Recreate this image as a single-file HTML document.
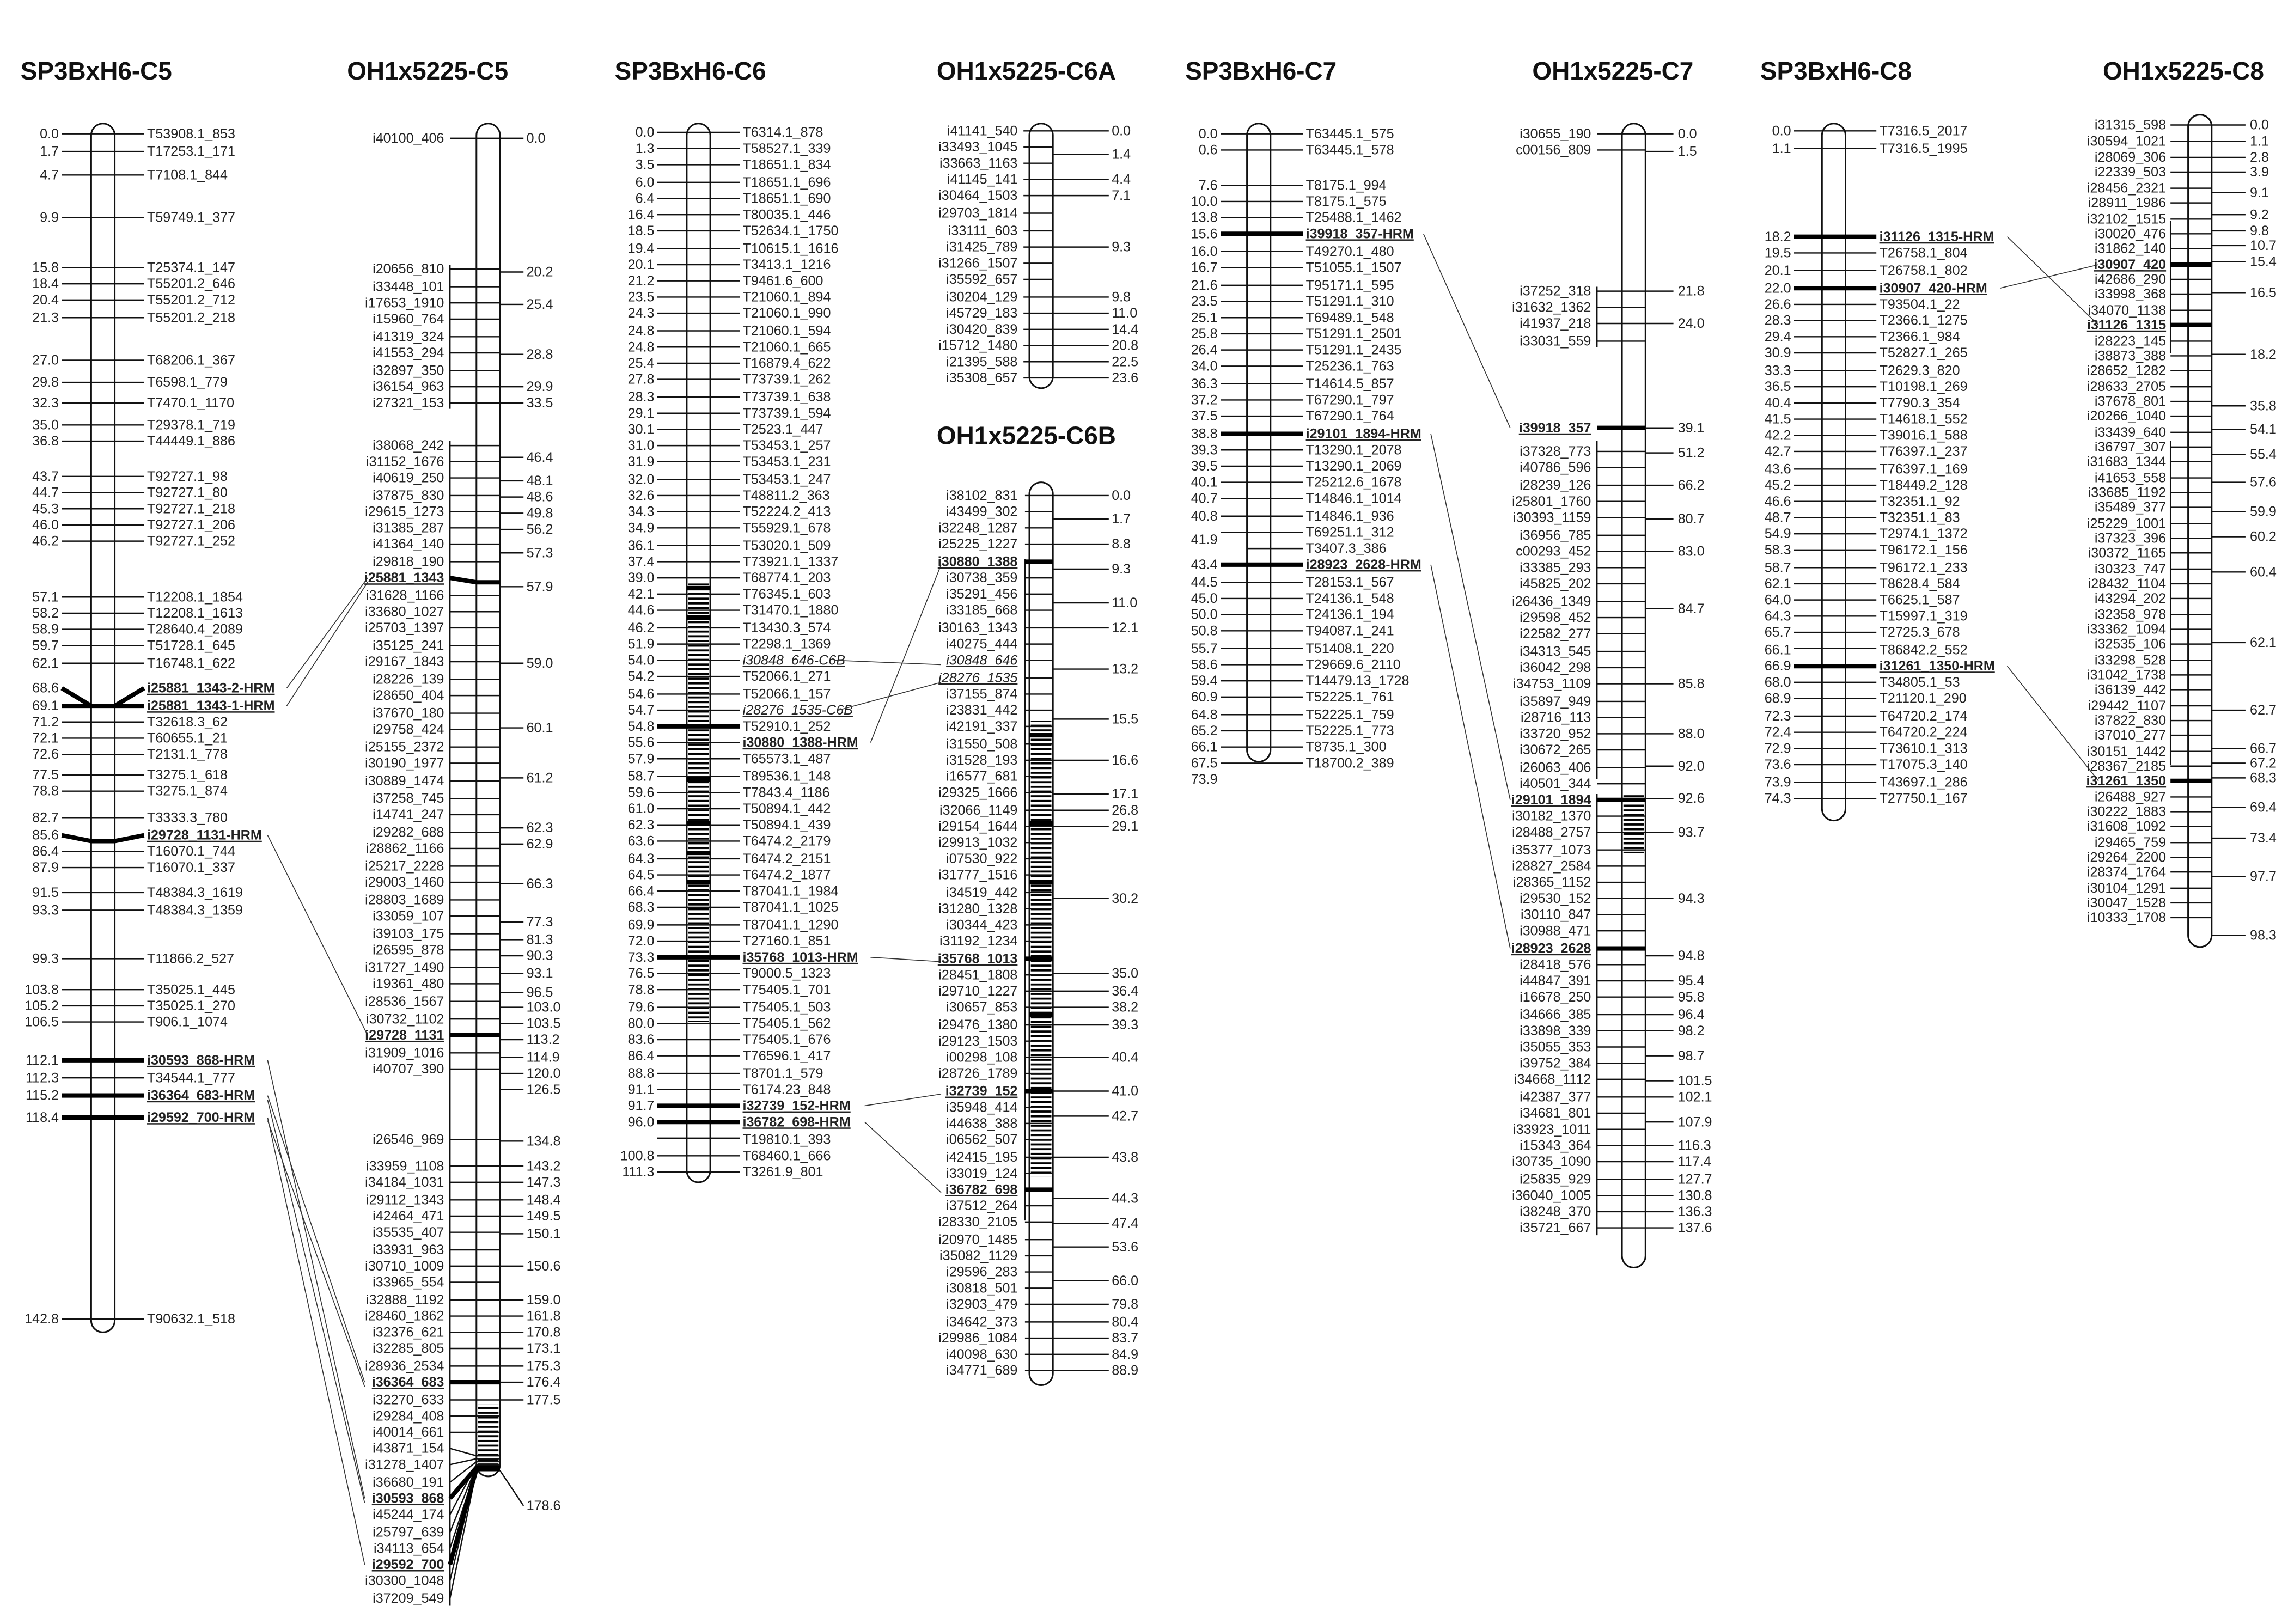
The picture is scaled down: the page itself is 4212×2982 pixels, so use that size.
<!DOCTYPE html>
<html><head><meta charset="utf-8">
<style>
html,body{margin:0;padding:0;background:#fff;}
svg{display:block;}
text{font-family:"Liberation Sans",sans-serif;font-size:9.3px;fill:#222;}
.e{text-anchor:end;}
.t{font-size:17px;font-weight:bold;fill:#111;}
.b{font-weight:bold;text-decoration:underline;}
.i{font-style:italic;text-decoration:underline;}
.k{stroke:#111;stroke-width:0.9;fill:none;}
.h{stroke:#000;stroke-width:3;fill:none;}
.c{stroke:#333;stroke-width:0.6;fill:none;}
.bar{fill:#fff;stroke:#111;stroke-width:1.1;}
</style></head><body>
<svg width="4212" height="2982" viewBox="0 0 1560 1104.4" preserveAspectRatio="none" xmlns="http://www.w3.org/2000/svg">
<defs>
<pattern id="hl" x="0" y="0" width="20" height="3.2" patternUnits="userSpaceOnUse"><rect x="0" y="0" width="20" height="1.4" fill="#000"/></pattern>
</defs>
<rect x="0" y="0" width="1560" height="1104.4" fill="#fff"/>

<!-- Titles -->
<text class="t" x="14" y="54">SP3BxH6-C5</text>
<text class="t" x="236" y="54">OH1x5225-C5</text>
<text class="t" x="418" y="54">SP3BxH6-C6</text>
<text class="t" x="637" y="54">OH1x5225-C6A</text>
<text class="t" x="637" y="302">OH1x5225-C6B</text>
<text class="t" x="806" y="54">SP3BxH6-C7</text>
<text class="t" x="1042" y="54">OH1x5225-C7</text>
<text class="t" x="1197" y="54">SP3BxH6-C8</text>
<text class="t" x="1430" y="54">OH1x5225-C8</text>

<!-- ============ SP3BxH6-C5 ============ -->
<rect class="bar" x="62" y="84" width="16" height="822" rx="8"/>
<path class="k" d="M42 91H98M42 103H98M42 119H98M42 148H98M42 182H98M42 193H98M42 204H98M42 216H98M42 245H98M42 260H98M42 274H98M42 289H98M42 300H98M42 324H98M42 335H98M42 346H98M42 357H98M42 368H98M42 406H98M42 417H98M42 428H98M42 439H98M42 451H98M42 491H98M42 502H98M42 513H98M42 527H98M42 538H98M42 556H98M42 579H98M42 590H98M42 607H98M42 619H98M42 652H98M42 673H98M42 684H98M42 695H98M42 733H98M42 897H98"/>
<path class="h" d="M42 468L62 480H78L98 468M42 480H98M42 568L62 572H78L98 568M42 721H98M42 745H98M42 760H98"/>
<g class="e">
<text x="40" y="94">0.0</text><text x="40" y="106">1.7</text><text x="40" y="122">4.7</text><text x="40" y="151">9.9</text><text x="40" y="185">15.8</text><text x="40" y="196">18.4</text><text x="40" y="207">20.4</text><text x="40" y="219">21.3</text><text x="40" y="248">27.0</text><text x="40" y="263">29.8</text><text x="40" y="277">32.3</text><text x="40" y="292">35.0</text><text x="40" y="303">36.8</text><text x="40" y="327">43.7</text><text x="40" y="338">44.7</text><text x="40" y="349">45.3</text><text x="40" y="360">46.0</text><text x="40" y="371">46.2</text><text x="40" y="409">57.1</text><text x="40" y="420">58.2</text><text x="40" y="431">58.9</text><text x="40" y="442">59.7</text><text x="40" y="454">62.1</text><text x="40" y="471">68.6</text><text x="40" y="483">69.1</text><text x="40" y="494">71.2</text><text x="40" y="505">72.1</text><text x="40" y="516">72.6</text><text x="40" y="530">77.5</text><text x="40" y="541">78.8</text><text x="40" y="559">82.7</text><text x="40" y="571">85.6</text><text x="40" y="582">86.4</text><text x="40" y="593">87.9</text><text x="40" y="610">91.5</text><text x="40" y="622">93.3</text><text x="40" y="655">99.3</text><text x="40" y="676">103.8</text><text x="40" y="687">105.2</text><text x="40" y="698">106.5</text><text x="40" y="724">112.1</text><text x="40" y="736">112.3</text><text x="40" y="748">115.2</text><text x="40" y="763">118.4</text><text x="40" y="900">142.8</text>
</g>
<g>
<text x="100" y="94">T53908.1_853</text><text x="100" y="106">T17253.1_171</text><text x="100" y="122">T7108.1_844</text><text x="100" y="151">T59749.1_377</text><text x="100" y="185">T25374.1_147</text><text x="100" y="196">T55201.2_646</text><text x="100" y="207">T55201.2_712</text><text x="100" y="219">T55201.2_218</text><text x="100" y="248">T68206.1_367</text><text x="100" y="263">T6598.1_779</text><text x="100" y="277">T7470.1_1170</text><text x="100" y="292">T29378.1_719</text><text x="100" y="303">T44449.1_886</text><text x="100" y="327">T92727.1_98</text><text x="100" y="338">T92727.1_80</text><text x="100" y="349">T92727.1_218</text><text x="100" y="360">T92727.1_206</text><text x="100" y="371">T92727.1_252</text><text x="100" y="409">T12208.1_1854</text><text x="100" y="420">T12208.1_1613</text><text x="100" y="431">T28640.4_2089</text><text x="100" y="442">T51728.1_645</text><text x="100" y="454">T16748.1_622</text>
<text class="b" x="100" y="471">i25881_1343-2-HRM</text><text class="b" x="100" y="483">i25881_1343-1-HRM</text>
<text x="100" y="494">T32618.3_62</text><text x="100" y="505">T60655.1_21</text><text x="100" y="516">T2131.1_778</text><text x="100" y="530">T3275.1_618</text><text x="100" y="541">T3275.1_874</text><text x="100" y="559">T3333.3_780</text>
<text class="b" x="100" y="571">i29728_1131-HRM</text>
<text x="100" y="582">T16070.1_744</text><text x="100" y="593">T16070.1_337</text><text x="100" y="610">T48384.3_1619</text><text x="100" y="622">T48384.3_1359</text><text x="100" y="655">T11866.2_527</text><text x="100" y="676">T35025.1_445</text><text x="100" y="687">T35025.1_270</text><text x="100" y="698">T906.1_1074</text>
<text class="b" x="100" y="724">i30593_868-HRM</text><text x="100" y="736">T34544.1_777</text><text class="b" x="100" y="748">i36364_683-HRM</text><text class="b" x="100" y="763">i29592_700-HRM</text>
<text x="100" y="900">T90632.1_518</text>
</g>

<!-- connectors C5 -->
<path class="c" d="M195 468L250 393M195 480L250 396M182 568L250 704M182 721L248 1019M182 745L248 940M182 760L248 1064M182 748L248 1022M182 762L248 943"/>

<!-- ============ OH1x5225-C5 ============ -->
<rect class="bar" x="324" y="84" width="16" height="920" rx="8"/>
<rect x="325" y="955" width="14" height="44" fill="url(#hl)"/>
<path class="k" d="M306 300V1092M306 180V278"/>
<path class="k" d="M306 94H340M306 183H340M306 195H340M306 206H340M306 217H340M306 229H340M306 240H340M306 252H340M306 263H340M306 274H340M306 303H340M306 314H340M306 325H340M306 337H340M306 348H340M306 359H340M306 370H340M306 382H340M306 405H340M306 416H340M306 427H340M306 439H340M306 450H340M306 462H340M306 473H340M306 485H340M306 496H340M306 508H340M306 519H340M306 531H340M306 543H340M306 554H340M306 566H340M306 577H340M306 589H340M306 600H340M306 612H340M306 623H340M306 635H340M306 646H340M306 658H340M306 669H340M306 681H340M306 693H340M306 716H340M306 727H340M306 775H340M306 793H340M306 804H340M306 816H340M306 827H340M306 838H340M306 850H340M306 861H340M306 872H340M306 884H340M306 895H340M306 906H340M306 917H340M306 929H340M306 952H340M306 963H340M306 974H340M306 985L324 990H340M306 996L324 992H340M306 1008L324 994H340M306 1030L324 996H340M306 1042L324 997H340M306 1053L324 998H340M306 1075L324 999H340M306 1087L324 1000H340"/>
<path class="h" d="M306 393L324 396H340M306 704H340M306 940H340M306 1019L324 998H340M306 1064L324 999H340"/>
<path class="k" d="M340 94H356M340 185H356M340 207H356M340 241H356M340 263H356M340 274H356M340 311H356M340 327H356M340 338H356M340 349H356M340 360H356M340 376H356M340 399H356M340 451H356M340 495H356M340 529H356M340 563H356M340 574H356M340 601H356M340 627H356M340 639H356M340 650H356M340 662H356M340 675H356M340 685H356M340 696H356M340 707H356M340 719H356M340 730H356M340 741H356M340 776H356M340 793H356M340 804H356M340 816H356M340 827H356M340 839H356M340 861H356M340 884H356M340 895H356M340 906H356M340 917H356M340 929H356M340 940H356M340 952H356M340 1000L356 1024"/>
<g class="e">
<text x="302" y="97">i40100_406</text><text x="302" y="186">i20656_810</text><text x="302" y="198">i33448_101</text><text x="302" y="209">i17653_1910</text><text x="302" y="220">i15960_764</text><text x="302" y="232">i41319_324</text><text x="302" y="243">i41553_294</text><text x="302" y="255">i32897_350</text><text x="302" y="266">i36154_963</text><text x="302" y="277">i27321_153</text><text x="302" y="306">i38068_242</text><text x="302" y="317">i31152_1676</text><text x="302" y="328">i40619_250</text><text x="302" y="340">i37875_830</text><text x="302" y="351">i29615_1273</text><text x="302" y="362">i31385_287</text><text x="302" y="373">i41364_140</text><text x="302" y="385">i29818_190</text><text class="b" x="302" y="396">i25881_1343</text><text x="302" y="408">i31628_1166</text><text x="302" y="419">i33680_1027</text><text x="302" y="430">i25703_1397</text><text x="302" y="442">i35125_241</text><text x="302" y="453">i29167_1843</text><text x="302" y="465">i28226_139</text><text x="302" y="476">i28650_404</text><text x="302" y="488">i37670_180</text><text x="302" y="499">i29758_424</text><text x="302" y="511">i25155_2372</text><text x="302" y="522">i30190_1977</text><text x="302" y="534">i30889_1474</text><text x="302" y="546">i37258_745</text><text x="302" y="557">i14741_247</text><text x="302" y="569">i29282_688</text><text x="302" y="580">i28862_1166</text><text x="302" y="592">i25217_2228</text><text x="302" y="603">i29003_1460</text><text x="302" y="615">i28803_1689</text><text x="302" y="626">i33059_107</text><text x="302" y="638">i39103_175</text><text x="302" y="649">i26595_878</text><text x="302" y="661">i31727_1490</text><text x="302" y="672">i19361_480</text><text x="302" y="684">i28536_1567</text><text x="302" y="696">i30732_1102</text><text class="b" x="302" y="707">i29728_1131</text><text x="302" y="719">i31909_1016</text><text x="302" y="730">i40707_390</text><text x="302" y="778">i26546_969</text><text x="302" y="796">i33959_1108</text><text x="302" y="807">i34184_1031</text><text x="302" y="819">i29112_1343</text><text x="302" y="830">i42464_471</text><text x="302" y="841">i35535_407</text><text x="302" y="853">i33931_963</text><text x="302" y="864">i30710_1009</text><text x="302" y="875">i33965_554</text><text x="302" y="887">i32888_1192</text><text x="302" y="898">i28460_1862</text><text x="302" y="909">i32376_621</text><text x="302" y="920">i32285_805</text><text x="302" y="932">i28936_2534</text><text class="b" x="302" y="943">i36364_683</text><text x="302" y="955">i32270_633</text><text x="302" y="966">i29284_408</text><text x="302" y="977">i40014_661</text><text x="302" y="988">i43871_154</text><text x="302" y="999">i31278_1407</text><text x="302" y="1011">i36680_191</text><text class="b" x="302" y="1022">i30593_868</text><text x="302" y="1033">i45244_174</text><text x="302" y="1045">i25797_639</text><text x="302" y="1056">i34113_654</text><text class="b" x="302" y="1067">i29592_700</text><text x="302" y="1078">i30300_1048</text><text x="302" y="1090">i37209_549</text>
</g>
<g>
<text x="358" y="97">0.0</text><text x="358" y="188">20.2</text><text x="358" y="210">25.4</text><text x="358" y="244">28.8</text><text x="358" y="266">29.9</text><text x="358" y="277">33.5</text><text x="358" y="314">46.4</text><text x="358" y="330">48.1</text><text x="358" y="341">48.6</text><text x="358" y="352">49.8</text><text x="358" y="363">56.2</text><text x="358" y="379">57.3</text><text x="358" y="402">57.9</text><text x="358" y="454">59.0</text><text x="358" y="498">60.1</text><text x="358" y="532">61.2</text><text x="358" y="566">62.3</text><text x="358" y="577">62.9</text><text x="358" y="604">66.3</text><text x="358" y="630">77.3</text><text x="358" y="642">81.3</text><text x="358" y="653">90.3</text><text x="358" y="665">93.1</text><text x="358" y="678">96.5</text><text x="358" y="688">103.0</text><text x="358" y="699">103.5</text><text x="358" y="710">113.2</text><text x="358" y="722">114.9</text><text x="358" y="733">120.0</text><text x="358" y="744">126.5</text><text x="358" y="779">134.8</text><text x="358" y="796">143.2</text><text x="358" y="807">147.3</text><text x="358" y="819">148.4</text><text x="358" y="830">149.5</text><text x="358" y="842">150.1</text><text x="358" y="864">150.6</text><text x="358" y="887">159.0</text><text x="358" y="898">161.8</text><text x="358" y="909">170.8</text><text x="358" y="920">173.1</text><text x="358" y="932">175.3</text><text x="358" y="943">176.4</text><text x="358" y="955">177.5</text><text x="358" y="1027">178.6</text>
</g>

<!-- ============ SP3BxH6-C6 ============ -->
<rect class="bar" x="467" y="84" width="16" height="720" rx="8"/>
<rect x="468" y="395" width="14" height="300" fill="url(#hl)"/>
<path class="k" d="M447 90H503M447 101H503M447 112H503M447 124H503M447 135H503M447 146H503M447 157H503M447 169H503M447 180H503M447 191H503M447 202H503M447 213H503M447 225H503M447 236H503M447 247H503M447 258H503M447 270H503M447 281H503M447 292H503M447 303H503M447 314H503M447 326H503M447 337H503M447 348H503M447 359H503M447 371H503M447 382H503M447 393H503M447 404H503M447 415H503M447 427H503M447 438H503M447 449H503M447 460H503M447 472H503M447 483H503M447 505H503M447 516H503M447 528H503M447 539H503M447 550H503M447 561H503M447 572H503M447 584H503M447 595H503M447 606H503M447 617H503M447 629H503M447 640H503M447 662H503M447 673H503M447 685H503M447 696H503M447 707H503M447 718H503M447 730H503M447 741H503M447 774H503M447 786H503M447 797H503"/>
<path class="h" d="M447 494H503M447 651H503M447 752H503M447 763H503M467 400H483M467 420H483M467 530H483M467 560H483M467 580H483M467 600H483"/>
<g class="e">
<text x="445" y="93">0.0</text><text x="445" y="104">1.3</text><text x="445" y="115">3.5</text><text x="445" y="127">6.0</text><text x="445" y="138">6.4</text><text x="445" y="149">16.4</text><text x="445" y="160">18.5</text><text x="445" y="172">19.4</text><text x="445" y="183">20.1</text><text x="445" y="194">21.2</text><text x="445" y="205">23.5</text><text x="445" y="216">24.3</text><text x="445" y="228">24.8</text><text x="445" y="239">24.8</text><text x="445" y="250">25.4</text><text x="445" y="261">27.8</text><text x="445" y="273">28.3</text><text x="445" y="284">29.1</text><text x="445" y="295">30.1</text><text x="445" y="306">31.0</text><text x="445" y="317">31.9</text><text x="445" y="329">32.0</text><text x="445" y="340">32.6</text><text x="445" y="351">34.3</text><text x="445" y="362">34.9</text><text x="445" y="374">36.1</text><text x="445" y="385">37.4</text><text x="445" y="396">39.0</text><text x="445" y="407">42.1</text><text x="445" y="418">44.6</text><text x="445" y="430">46.2</text><text x="445" y="441">51.9</text><text x="445" y="452">54.0</text><text x="445" y="463">54.2</text><text x="445" y="475">54.6</text><text x="445" y="486">54.7</text><text x="445" y="497">54.8</text><text x="445" y="508">55.6</text><text x="445" y="519">57.9</text><text x="445" y="531">58.7</text><text x="445" y="542">59.6</text><text x="445" y="553">61.0</text><text x="445" y="564">62.3</text><text x="445" y="575">63.6</text><text x="445" y="587">64.3</text><text x="445" y="598">64.5</text><text x="445" y="609">66.4</text><text x="445" y="620">68.3</text><text x="445" y="632">69.9</text><text x="445" y="643">72.0</text><text x="445" y="654">73.3</text><text x="445" y="665">76.5</text><text x="445" y="676">78.8</text><text x="445" y="688">79.6</text><text x="445" y="699">80.0</text><text x="445" y="710">83.6</text><text x="445" y="721">86.4</text><text x="445" y="733">88.8</text><text x="445" y="744">91.1</text><text x="445" y="755">91.7</text><text x="445" y="766">96.0</text><text x="445" y="789">100.8</text><text x="445" y="800">111.3</text>
</g>
<g>
<text x="505" y="93">T6314.1_878</text><text x="505" y="104">T58527.1_339</text><text x="505" y="115">T18651.1_834</text><text x="505" y="127">T18651.1_696</text><text x="505" y="138">T18651.1_690</text><text x="505" y="149">T80035.1_446</text><text x="505" y="160">T52634.1_1750</text><text x="505" y="172">T10615.1_1616</text><text x="505" y="183">T3413.1_1216</text><text x="505" y="194">T9461.6_600</text><text x="505" y="205">T21060.1_894</text><text x="505" y="216">T21060.1_990</text><text x="505" y="228">T21060.1_594</text><text x="505" y="239">T21060.1_665</text><text x="505" y="250">T16879.4_622</text><text x="505" y="261">T73739.1_262</text><text x="505" y="273">T73739.1_638</text><text x="505" y="284">T73739.1_594</text><text x="505" y="295">T2523.1_447</text><text x="505" y="306">T53453.1_257</text><text x="505" y="317">T53453.1_231</text><text x="505" y="329">T53453.1_247</text><text x="505" y="340">T48811.2_363</text><text x="505" y="351">T52224.2_413</text><text x="505" y="362">T55929.1_678</text><text x="505" y="374">T53020.1_509</text><text x="505" y="385">T73921.1_1337</text><text x="505" y="396">T68774.1_203</text><text x="505" y="407">T76345.1_603</text><text x="505" y="418">T31470.1_1880</text><text x="505" y="430">T13430.3_574</text><text x="505" y="441">T2298.1_1369</text><text class="i" x="505" y="452">i30848_646-C6B</text><text x="505" y="463">T52066.1_271</text><text x="505" y="475">T52066.1_157</text><text class="i" x="505" y="486">i28276_1535-C6B</text><text x="505" y="497">T52910.1_252</text><text class="b" x="505" y="508">i30880_1388-HRM</text><text x="505" y="519">T65573.1_487</text><text x="505" y="531">T89536.1_148</text><text x="505" y="542">T7843.4_1186</text><text x="505" y="553">T50894.1_442</text><text x="505" y="564">T50894.1_439</text><text x="505" y="575">T6474.2_2179</text><text x="505" y="587">T6474.2_2151</text><text x="505" y="598">T6474.2_1877</text><text x="505" y="609">T87041.1_1984</text><text x="505" y="620">T87041.1_1025</text><text x="505" y="632">T87041.1_1290</text><text x="505" y="643">T27160.1_851</text><text class="b" x="505" y="654">i35768_1013-HRM</text><text x="505" y="665">T9000.5_1323</text><text x="505" y="676">T75405.1_701</text><text x="505" y="688">T75405.1_503</text><text x="505" y="699">T75405.1_562</text><text x="505" y="710">T75405.1_676</text><text x="505" y="721">T76596.1_417</text><text x="505" y="733">T8701.1_579</text><text x="505" y="744">T6174.23_848</text><text class="b" x="505" y="755">i32739_152-HRM</text><text class="b" x="505" y="766">i36782_698-HRM</text><text x="505" y="778">T19810.1_393</text><text x="505" y="789">T68460.1_666</text><text x="505" y="800">T3261.9_801</text>
</g>
<path class="c" d="M567 449L640 452M570 483L640 464M592 505L640 384M592 651L640 654M588 752L640 744M588 763L640 811"/>

<!-- ============ OH1x5225-C6A ============ -->
<rect class="bar" x="700" y="84" width="16" height="180" rx="8"/>
<path class="k" d="M696 89H716M696 100H716M696 111H716M696 122H716M696 133H716M696 145H716M696 157H716M696 168H716M696 179H716M696 190H716M696 202H716M696 213H716M696 224H716M696 235H716M696 246H716M696 257H716"/>
<g class="e">
<text x="692" y="92">i41141_540</text><text x="692" y="103">i33493_1045</text><text x="692" y="114">i33663_1163</text><text x="692" y="125">i41145_141</text><text x="692" y="136">i30464_1503</text><text x="692" y="148">i29703_1814</text><text x="692" y="160">i33111_603</text><text x="692" y="171">i31425_789</text><text x="692" y="182">i31266_1507</text><text x="692" y="193">i35592_657</text><text x="692" y="205">i30204_129</text><text x="692" y="216">i45729_183</text><text x="692" y="227">i30420_839</text><text x="692" y="238">i15712_1480</text><text x="692" y="249">i21395_588</text><text x="692" y="260">i35308_657</text>
</g>
<g>
<text x="756" y="92">0.0</text><text x="756" y="108">1.4</text><text x="756" y="125">4.4</text><text x="756" y="136">7.1</text><text x="756" y="171">9.3</text><text x="756" y="205">9.8</text><text x="756" y="216">11.0</text><text x="756" y="227">14.4</text><text x="756" y="238">20.8</text><text x="756" y="249">22.5</text><text x="756" y="260">23.6</text>
</g>
<path class="k" d="M716 89H754M716 105H754M716 122H754M716 133H754M716 168H754M716 202H754M716 213H754M716 224H754M716 235H754M716 246H754M716 257H754"/>

<!-- ============ OH1x5225-C6B ============ -->
<rect class="bar" x="700" y="328" width="16" height="614" rx="8"/>
<rect x="701" y="490" width="14" height="310" fill="url(#hl)"/>
<path class="k" d="M697 380V830"/>
<path class="k" d="M697 337H716M697 348H716M697 359H716M697 370H716M697 393H716M697 404H716M697 415H716M697 427H716M697 438H716M697 449H716M697 461H716M697 472H716M697 483H716M697 494H716M697 506H716M697 517H716M697 528H716M697 539H716M697 551H716M697 562H716M697 573H716M697 584H716M697 595H716M697 607H716M697 618H716M697 629H716M697 640H716M697 663H716M697 674H716M697 685H716M697 697H716M697 708H716M697 719H716M697 730H716M697 753H716M697 764H716M697 775H716M697 787H716M697 798H716M697 820H716M697 831H716M697 843H716M697 854H716M697 865H716M697 876H716M697 887H716M697 899H716M697 910H716M697 921H716M697 932H716"/>
<path class="h" d="M697 382H716M697 652H716M697 742H716M697 809H716M700 500H716M700 560H716M700 600H716M700 690H716"/>
<path class="k" d="M716 337H754M716 353H754M716 370H754M716 387H754M716 410H754M716 427H754M716 455H754M716 489H754M716 517H754M716 540H754M716 551H754M716 562H754M716 611H754M716 662H754M716 674H754M716 685H754M716 697H754M716 719H754M716 742H754M716 759H754M716 787H754M716 815H754M716 832H754M716 848H754M716 871H754M716 887H754M716 899H754M716 910H754M716 921H754M716 932H754"/>
<g class="e">
<text x="692" y="340">i38102_831</text><text x="692" y="351">i43499_302</text><text x="692" y="362">i32248_1287</text><text x="692" y="373">i25225_1227</text><text class="b" x="692" y="385">i30880_1388</text><text x="692" y="396">i30738_359</text><text x="692" y="407">i35291_456</text><text x="692" y="418">i33185_668</text><text x="692" y="430">i30163_1343</text><text x="692" y="441">i40275_444</text><text class="i" x="692" y="452">i30848_646</text><text class="i" x="692" y="464">i28276_1535</text><text x="692" y="475">i37155_874</text><text x="692" y="486">i23831_442</text><text x="692" y="497">i42191_337</text><text x="692" y="509">i31550_508</text><text x="692" y="520">i31528_193</text><text x="692" y="531">i16577_681</text><text x="692" y="542">i29325_1666</text><text x="692" y="554">i32066_1149</text><text x="692" y="565">i29154_1644</text><text x="692" y="576">i29913_1032</text><text x="692" y="587">i07530_922</text><text x="692" y="598">i31777_1516</text><text x="692" y="610">i34519_442</text><text x="692" y="621">i31280_1328</text><text x="692" y="632">i30344_423</text><text x="692" y="643">i31192_1234</text><text class="b" x="692" y="655">i35768_1013</text><text x="692" y="666">i28451_1808</text><text x="692" y="677">i29710_1227</text><text x="692" y="688">i30657_853</text><text x="692" y="700">i29476_1380</text><text x="692" y="711">i29123_1503</text><text x="692" y="722">i00298_108</text><text x="692" y="733">i28726_1789</text><text class="b" x="692" y="745">i32739_152</text><text x="692" y="756">i35948_414</text><text x="692" y="767">i44638_388</text><text x="692" y="778">i06562_507</text><text x="692" y="790">i42415_195</text><text x="692" y="801">i33019_124</text><text class="b" x="692" y="812">i36782_698</text><text x="692" y="823">i37512_264</text><text x="692" y="834">i28330_2105</text><text x="692" y="846">i20970_1485</text><text x="692" y="857">i35082_1129</text><text x="692" y="868">i29596_283</text><text x="692" y="879">i30818_501</text><text x="692" y="890">i32903_479</text><text x="692" y="902">i34642_373</text><text x="692" y="913">i29986_1084</text><text x="692" y="924">i40098_630</text><text x="692" y="935">i34771_689</text>
</g>
<g>
<text x="756" y="340">0.0</text><text x="756" y="356">1.7</text><text x="756" y="373">8.8</text><text x="756" y="390">9.3</text><text x="756" y="413">11.0</text><text x="756" y="430">12.1</text><text x="756" y="458">13.2</text><text x="756" y="492">15.5</text><text x="756" y="520">16.6</text><text x="756" y="543">17.1</text><text x="756" y="554">26.8</text><text x="756" y="565">29.1</text><text x="756" y="614">30.2</text><text x="756" y="665">35.0</text><text x="756" y="677">36.4</text><text x="756" y="688">38.2</text><text x="756" y="700">39.3</text><text x="756" y="722">40.4</text><text x="756" y="745">41.0</text><text x="756" y="762">42.7</text><text x="756" y="790">43.8</text><text x="756" y="818">44.3</text><text x="756" y="835">47.4</text><text x="756" y="851">53.6</text><text x="756" y="874">66.0</text><text x="756" y="890">79.8</text><text x="756" y="902">80.4</text><text x="756" y="913">83.7</text><text x="756" y="924">84.9</text><text x="756" y="935">88.9</text>
</g>

<!-- ============ SP3BxH6-C7 ============ -->
<rect class="bar" x="848" y="84" width="16" height="434" rx="8"/>
<path class="k" d="M830 91H886M830 102H886M830 126H886M830 137H886M830 148H886M830 171H886M830 182H886M830 194H886M830 205H886M830 216H886M830 227H886M830 238H886M830 249H886M830 261H886M830 272H886M830 283H886M830 306H886M830 317H886M830 328H886M830 339H886M830 351H886M830 362H886M848 373H886M830 396H886M830 407H886M830 418H886M830 429H886M830 441H886M830 452H886M830 463H886M830 474H886M830 486H886M830 497H886M830 508H886M830 519H886"/>
<path class="h" d="M830 159H886M830 295H886M830 384H886"/>
<g class="e">
<text x="828" y="94">0.0</text><text x="828" y="105">0.6</text><text x="828" y="129">7.6</text><text x="828" y="140">10.0</text><text x="828" y="151">13.8</text><text x="828" y="162">15.6</text><text x="828" y="174">16.0</text><text x="828" y="185">16.7</text><text x="828" y="197">21.6</text><text x="828" y="208">23.5</text><text x="828" y="219">25.1</text><text x="828" y="230">25.8</text><text x="828" y="241">26.4</text><text x="828" y="252">34.0</text><text x="828" y="264">36.3</text><text x="828" y="275">37.2</text><text x="828" y="286">37.5</text><text x="828" y="298">38.8</text><text x="828" y="309">39.3</text><text x="828" y="320">39.5</text><text x="828" y="331">40.1</text><text x="828" y="342">40.7</text><text x="828" y="354">40.8</text><text x="828" y="370">41.9</text><text x="828" y="387">43.4</text><text x="828" y="399">44.5</text><text x="828" y="410">45.0</text><text x="828" y="421">50.0</text><text x="828" y="432">50.8</text><text x="828" y="444">55.7</text><text x="828" y="455">58.6</text><text x="828" y="466">59.4</text><text x="828" y="477">60.9</text><text x="828" y="489">64.8</text><text x="828" y="500">65.2</text><text x="828" y="511">66.1</text><text x="828" y="522">67.5</text><text x="828" y="533">73.9</text>
</g>
<g>
<text x="888" y="94">T63445.1_575</text><text x="888" y="105">T63445.1_578</text><text x="888" y="129">T8175.1_994</text><text x="888" y="140">T8175.1_575</text><text x="888" y="151">T25488.1_1462</text><text class="b" x="888" y="162">i39918_357-HRM</text><text x="888" y="174">T49270.1_480</text><text x="888" y="185">T51055.1_1507</text><text x="888" y="197">T95171.1_595</text><text x="888" y="208">T51291.1_310</text><text x="888" y="219">T69489.1_548</text><text x="888" y="230">T51291.1_2501</text><text x="888" y="241">T51291.1_2435</text><text x="888" y="252">T25236.1_763</text><text x="888" y="264">T14614.5_857</text><text x="888" y="275">T67290.1_797</text><text x="888" y="286">T67290.1_764</text><text class="b" x="888" y="298">i29101_1894-HRM</text><text x="888" y="309">T13290.1_2078</text><text x="888" y="320">T13290.1_2069</text><text x="888" y="331">T25212.6_1678</text><text x="888" y="342">T14846.1_1014</text><text x="888" y="354">T14846.1_936</text><text x="888" y="365">T69251.1_312</text><text x="888" y="376">T3407.3_386</text><text class="b" x="888" y="387">i28923_2628-HRM</text><text x="888" y="399">T28153.1_567</text><text x="888" y="410">T24136.1_548</text><text x="888" y="421">T24136.1_194</text><text x="888" y="432">T94087.1_241</text><text x="888" y="444">T51408.1_220</text><text x="888" y="455">T29669.6_2110</text><text x="888" y="466">T14479.13_1728</text><text x="888" y="477">T52225.1_761</text><text x="888" y="489">T52225.1_759</text><text x="888" y="500">T52225.1_773</text><text x="888" y="511">T8735.1_300</text><text x="888" y="522">T18700.2_389</text>
</g>
<path class="c" d="M968 159L1027 291M973 295L1027 544M973 384L1027 645"/>

<!-- ============ OH1x5225-C7 ============ -->
<rect class="bar" x="1103" y="84" width="16" height="778" rx="8"/>
<rect x="1104" y="540" width="14" height="40" fill="url(#hl)"/>
<path class="k" d="M1086 195V236M1086 300V530M1086 540V840"/>
<path class="k" d="M1086 91H1119M1086 102H1119M1086 198H1119M1086 209H1119M1086 220H1119M1086 232H1119M1086 307H1119M1086 318H1119M1086 330H1119M1086 341H1119M1086 352H1119M1086 364H1119M1086 375H1119M1086 386H1119M1086 397H1119M1086 409H1119M1086 420H1119M1086 431H1119M1086 443H1119M1086 454H1119M1086 465H1119M1086 477H1119M1086 488H1119M1086 499H1119M1086 510H1119M1086 522H1119M1086 533H1119M1086 555H1119M1086 566H1119M1086 578H1119M1086 589H1119M1086 600H1119M1086 611H1119M1086 622H1119M1086 633H1119M1086 656H1119M1086 667H1119M1086 678H1119M1086 690H1119M1086 701H1119M1086 712H1119M1086 723H1119M1086 734H1119M1086 746H1119M1086 757H1119M1086 768H1119M1086 779H1119M1086 790H1119M1086 802H1119M1086 813H1119M1086 824H1119M1086 835H1119"/>
<path class="h" d="M1086 291H1119M1086 544H1119M1086 645H1119"/>
<path class="k" d="M1119 91H1138M1119 103H1138M1119 198H1138M1119 220H1138M1119 291H1138M1119 308H1138M1119 330H1138M1119 353H1138M1119 375H1138M1119 414H1138M1119 465H1138M1119 499H1138M1119 521H1138M1119 543H1138M1119 566H1138M1119 611H1138M1119 650H1138M1119 667H1138M1119 678H1138M1119 690H1138M1119 701H1138M1119 718H1138M1119 735H1138M1119 746H1138M1119 763H1138M1119 779H1138M1119 790H1138M1119 802H1138M1119 813H1138M1119 824H1138M1119 835H1138"/>
<g class="e">
<text x="1082" y="94">i30655_190</text><text x="1082" y="105">c00156_809</text><text x="1082" y="201">i37252_318</text><text x="1082" y="212">i31632_1362</text><text x="1082" y="223">i41937_218</text><text x="1082" y="235">i33031_559</text><text class="b" x="1082" y="294">i39918_357</text><text x="1082" y="310">i37328_773</text><text x="1082" y="321">i40786_596</text><text x="1082" y="333">i28239_126</text><text x="1082" y="344">i25801_1760</text><text x="1082" y="355">i30393_1159</text><text x="1082" y="367">i36956_785</text><text x="1082" y="378">c00293_452</text><text x="1082" y="389">i33385_293</text><text x="1082" y="400">i45825_202</text><text x="1082" y="412">i26436_1349</text><text x="1082" y="423">i29598_452</text><text x="1082" y="434">i22582_277</text><text x="1082" y="446">i34313_545</text><text x="1082" y="457">i36042_298</text><text x="1082" y="468">i34753_1109</text><text x="1082" y="480">i35897_949</text><text x="1082" y="491">i28716_113</text><text x="1082" y="502">i33720_952</text><text x="1082" y="513">i30672_265</text><text x="1082" y="525">i26063_406</text><text x="1082" y="536">i40501_344</text><text class="b" x="1082" y="547">i29101_1894</text><text x="1082" y="558">i30182_1370</text><text x="1082" y="569">i28488_2757</text><text x="1082" y="581">i35377_1073</text><text x="1082" y="592">i28827_2584</text><text x="1082" y="603">i28365_1152</text><text x="1082" y="614">i29530_152</text><text x="1082" y="625">i30110_847</text><text x="1082" y="636">i30988_471</text><text class="b" x="1082" y="648">i28923_2628</text><text x="1082" y="659">i28418_576</text><text x="1082" y="670">i44847_391</text><text x="1082" y="681">i16678_250</text><text x="1082" y="693">i34666_385</text><text x="1082" y="704">i33898_339</text><text x="1082" y="715">i35055_353</text><text x="1082" y="726">i39752_384</text><text x="1082" y="737">i34668_1112</text><text x="1082" y="749">i42387_377</text><text x="1082" y="760">i34681_801</text><text x="1082" y="771">i33923_1011</text><text x="1082" y="782">i15343_364</text><text x="1082" y="793">i30735_1090</text><text x="1082" y="805">i25835_929</text><text x="1082" y="816">i36040_1005</text><text x="1082" y="827">i38248_370</text><text x="1082" y="838">i35721_667</text>
</g>
<g>
<text x="1141" y="94">0.0</text><text x="1141" y="106">1.5</text><text x="1141" y="201">21.8</text><text x="1141" y="223">24.0</text><text x="1141" y="294">39.1</text><text x="1141" y="311">51.2</text><text x="1141" y="333">66.2</text><text x="1141" y="356">80.7</text><text x="1141" y="378">83.0</text><text x="1141" y="417">84.7</text><text x="1141" y="468">85.8</text><text x="1141" y="502">88.0</text><text x="1141" y="524">92.0</text><text x="1141" y="546">92.6</text><text x="1141" y="569">93.7</text><text x="1141" y="614">94.3</text><text x="1141" y="653">94.8</text><text x="1141" y="670">95.4</text><text x="1141" y="681">95.8</text><text x="1141" y="693">96.4</text><text x="1141" y="704">98.2</text><text x="1141" y="721">98.7</text><text x="1141" y="738">101.5</text><text x="1141" y="749">102.1</text><text x="1141" y="766">107.9</text><text x="1141" y="782">116.3</text><text x="1141" y="793">117.4</text><text x="1141" y="805">127.7</text><text x="1141" y="816">130.8</text><text x="1141" y="827">136.3</text><text x="1141" y="838">137.6</text>
</g>

<!-- ============ SP3BxH6-C8 ============ -->
<rect class="bar" x="1239" y="84" width="16" height="474" rx="8"/>
<path class="k" d="M1220 89H1276M1220 101H1276M1220 172H1276M1220 184H1276M1220 207H1276M1220 218H1276M1220 229H1276M1220 240H1276M1220 252H1276M1220 263H1276M1220 274H1276M1220 285H1276M1220 296H1276M1220 307H1276M1220 319H1276M1220 330H1276M1220 341H1276M1220 352H1276M1220 363H1276M1220 374H1276M1220 386H1276M1220 397H1276M1220 408H1276M1220 419H1276M1220 430H1276M1220 441H1276M1220 464H1276M1220 475H1276M1220 487H1276M1220 498H1276M1220 509H1276M1220 520H1276M1220 532H1276M1220 543H1276"/>
<path class="h" d="M1220 161H1276M1220 196H1276M1220 453H1276"/>
<g class="e">
<text x="1218" y="92">0.0</text><text x="1218" y="104">1.1</text><text x="1218" y="164">18.2</text><text x="1218" y="175">19.5</text><text x="1218" y="187">20.1</text><text x="1218" y="199">22.0</text><text x="1218" y="210">26.6</text><text x="1218" y="221">28.3</text><text x="1218" y="232">29.4</text><text x="1218" y="243">30.9</text><text x="1218" y="255">33.3</text><text x="1218" y="266">36.5</text><text x="1218" y="277">40.4</text><text x="1218" y="288">41.5</text><text x="1218" y="299">42.2</text><text x="1218" y="310">42.7</text><text x="1218" y="322">43.6</text><text x="1218" y="333">45.2</text><text x="1218" y="344">46.6</text><text x="1218" y="355">48.7</text><text x="1218" y="366">54.9</text><text x="1218" y="377">58.3</text><text x="1218" y="389">58.7</text><text x="1218" y="400">62.1</text><text x="1218" y="411">64.0</text><text x="1218" y="422">64.3</text><text x="1218" y="433">65.7</text><text x="1218" y="445">66.1</text><text x="1218" y="456">66.9</text><text x="1218" y="467">68.0</text><text x="1218" y="478">68.9</text><text x="1218" y="490">72.3</text><text x="1218" y="501">72.4</text><text x="1218" y="512">72.9</text><text x="1218" y="523">73.6</text><text x="1218" y="535">73.9</text><text x="1218" y="546">74.3</text>
</g>
<g>
<text x="1278" y="92">T7316.5_2017</text><text x="1278" y="104">T7316.5_1995</text><text class="b" x="1278" y="164">i31126_1315-HRM</text><text x="1278" y="175">T26758.1_804</text><text x="1278" y="187">T26758.1_802</text><text class="b" x="1278" y="199">i30907_420-HRM</text><text x="1278" y="210">T93504.1_22</text><text x="1278" y="221">T2366.1_1275</text><text x="1278" y="232">T2366.1_984</text><text x="1278" y="243">T52827.1_265</text><text x="1278" y="255">T2629.3_820</text><text x="1278" y="266">T10198.1_269</text><text x="1278" y="277">T7790.3_354</text><text x="1278" y="288">T14618.1_552</text><text x="1278" y="299">T39016.1_588</text><text x="1278" y="310">T76397.1_237</text><text x="1278" y="322">T76397.1_169</text><text x="1278" y="333">T18449.2_128</text><text x="1278" y="344">T32351.1_92</text><text x="1278" y="355">T32351.1_83</text><text x="1278" y="366">T2974.1_1372</text><text x="1278" y="377">T96172.1_156</text><text x="1278" y="389">T96172.1_233</text><text x="1278" y="400">T8628.4_584</text><text x="1278" y="411">T6625.1_587</text><text x="1278" y="422">T15997.1_319</text><text x="1278" y="433">T2725.3_678</text><text x="1278" y="445">T86842.2_552</text><text class="b" x="1278" y="456">i31261_1350-HRM</text><text x="1278" y="467">T34805.1_53</text><text x="1278" y="478">T21120.1_290</text><text x="1278" y="490">T64720.2_174</text><text x="1278" y="501">T64720.2_224</text><text x="1278" y="512">T73610.1_313</text><text x="1278" y="523">T17075.3_140</text><text x="1278" y="535">T43697.1_286</text><text x="1278" y="546">T27750.1_167</text>
</g>
<path class="c" d="M1365 161L1427 221M1360 196L1427 180M1365 453L1427 531"/>

<!-- ============ OH1x5225-C8 ============ -->
<rect class="bar" x="1488" y="78" width="16" height="566" rx="8"/>
<path class="k" d="M1476 150V240M1476 300V520"/>
<path class="k" d="M1476 85H1504M1476 96H1504M1476 107H1504M1476 117H1504M1476 128H1504M1476 138H1504M1476 149H1504M1476 159H1504M1476 169H1504M1476 190H1504M1476 200H1504M1476 211H1504M1476 232H1504M1476 242H1504M1476 252H1504M1476 263H1504M1476 273H1504M1476 283H1504M1476 294H1504M1476 304H1504M1476 314H1504M1476 325H1504M1476 335H1504M1476 345H1504M1476 356H1504M1476 366H1504M1476 376H1504M1476 387H1504M1476 397H1504M1476 407H1504M1476 418H1504M1476 428H1504M1476 438H1504M1476 449H1504M1476 459H1504M1476 469H1504M1476 480H1504M1476 490H1504M1476 500H1504M1476 511H1504M1476 521H1504M1476 542H1504M1476 552H1504M1476 562H1504M1476 573H1504M1476 583H1504M1476 593H1504M1476 604H1504M1476 614H1504M1476 624H1504"/>
<path class="h" d="M1476 180H1504M1476 221H1504M1476 531H1504"/>
<path class="k" d="M1504 85H1527M1504 96H1527M1504 107H1527M1504 117H1527M1504 131H1527M1504 146H1527M1504 157H1527M1504 167H1527M1504 178H1527M1504 199H1527M1504 241H1527M1504 276H1527M1504 292H1527M1504 309H1527M1504 328H1527M1504 348H1527M1504 365H1527M1504 389H1527M1504 437H1527M1504 483H1527M1504 509H1527M1504 519H1527M1504 529H1527M1504 549H1527M1504 570H1527M1504 596H1527M1504 636H1527"/>
<g class="e">
<text x="1473" y="88">i31315_598</text><text x="1473" y="99">i30594_1021</text><text x="1473" y="110">i28069_306</text><text x="1473" y="120">i22339_503</text><text x="1473" y="131">i28456_2321</text><text x="1473" y="141">i28911_1986</text><text x="1473" y="152">i32102_1515</text><text x="1473" y="162">i30020_476</text><text x="1473" y="172">i31862_140</text><text class="b" x="1473" y="183">i30907_420</text><text x="1473" y="193">i42686_290</text><text x="1473" y="203">i33998_368</text><text x="1473" y="214">i34070_1138</text><text class="b" x="1473" y="224">i31126_1315</text><text x="1473" y="235">i28223_145</text><text x="1473" y="245">i38873_388</text><text x="1473" y="255">i28652_1282</text><text x="1473" y="266">i28633_2705</text><text x="1473" y="276">i37678_801</text><text x="1473" y="286">i20266_1040</text><text x="1473" y="297">i33439_640</text><text x="1473" y="307">i36797_307</text><text x="1473" y="317">i31683_1344</text><text x="1473" y="328">i41653_558</text><text x="1473" y="338">i33685_1192</text><text x="1473" y="348">i35489_377</text><text x="1473" y="359">i25229_1001</text><text x="1473" y="369">i37323_396</text><text x="1473" y="379">i30372_1165</text><text x="1473" y="390">i30323_747</text><text x="1473" y="400">i28432_1104</text><text x="1473" y="410">i43294_202</text><text x="1473" y="421">i32358_978</text><text x="1473" y="431">i33362_1094</text><text x="1473" y="441">i32535_106</text><text x="1473" y="452">i33298_528</text><text x="1473" y="462">i31042_1738</text><text x="1473" y="472">i36139_442</text><text x="1473" y="483">i29442_1107</text><text x="1473" y="493">i37822_830</text><text x="1473" y="503">i37010_277</text><text x="1473" y="514">i30151_1442</text><text x="1473" y="524">i28367_2185</text><text class="b" x="1473" y="534">i31261_1350</text><text x="1473" y="545">i26488_927</text><text x="1473" y="555">i30222_1883</text><text x="1473" y="565">i31608_1092</text><text x="1473" y="576">i29465_759</text><text x="1473" y="586">i29264_2200</text><text x="1473" y="596">i28374_1764</text><text x="1473" y="607">i30104_1291</text><text x="1473" y="617">i30047_1528</text><text x="1473" y="627">i10333_1708</text>
</g>
<g>
<text x="1530" y="88">0.0</text><text x="1530" y="99">1.1</text><text x="1530" y="110">2.8</text><text x="1530" y="120">3.9</text><text x="1530" y="134">9.1</text><text x="1530" y="149">9.2</text><text x="1530" y="160">9.8</text><text x="1530" y="170">10.7</text><text x="1530" y="181">15.4</text><text x="1530" y="202">16.5</text><text x="1530" y="244">18.2</text><text x="1530" y="279">35.8</text><text x="1530" y="295">54.1</text><text x="1530" y="312">55.4</text><text x="1530" y="331">57.6</text><text x="1530" y="351">59.9</text><text x="1530" y="368">60.2</text><text x="1530" y="392">60.4</text><text x="1530" y="440">62.1</text><text x="1530" y="486">62.7</text><text x="1530" y="512">66.7</text><text x="1530" y="522">67.2</text><text x="1530" y="532">68.3</text><text x="1530" y="552">69.4</text><text x="1530" y="573">73.4</text><text x="1530" y="599">97.7</text><text x="1530" y="639">98.3</text>
</g>
</svg>
</body></html>
